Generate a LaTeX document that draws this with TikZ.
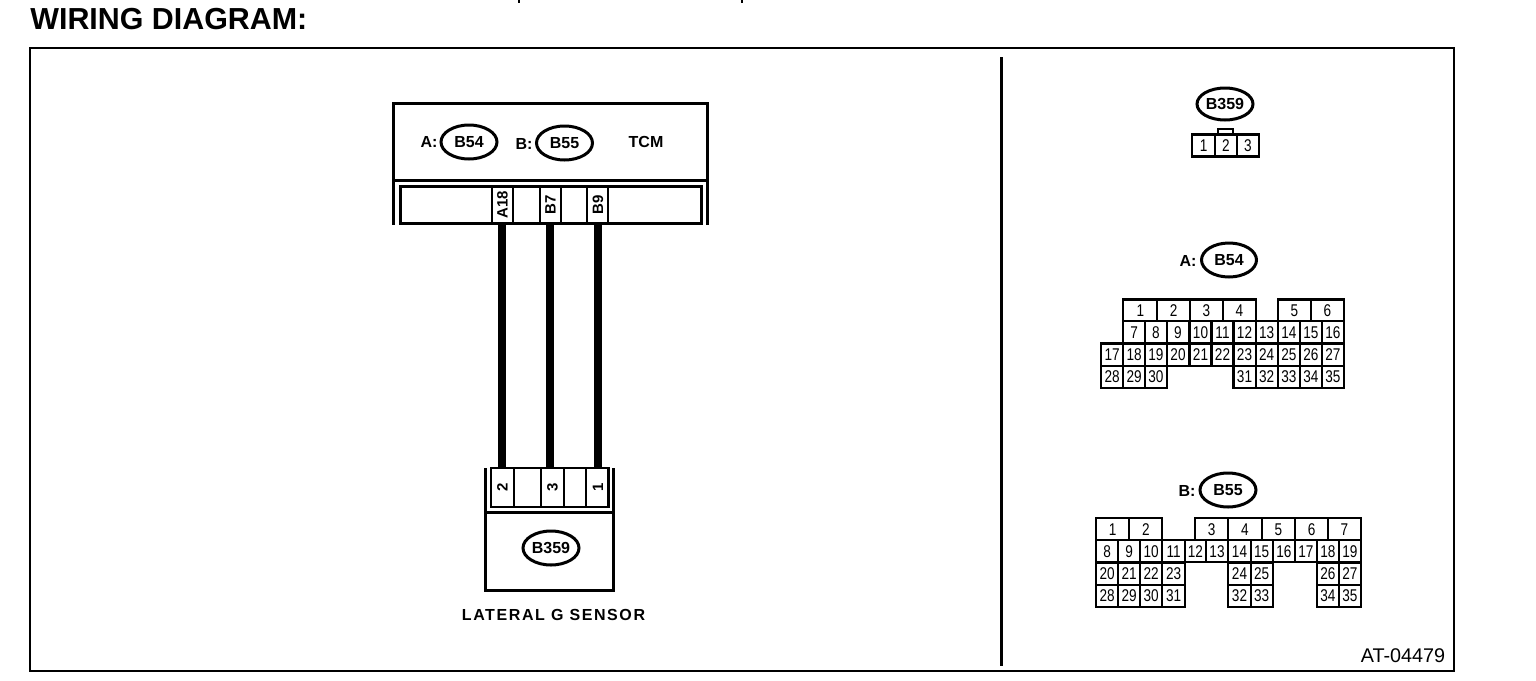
\documentclass[tikz,border=0pt]{standalone}
\usepackage{fontspec}
\setmainfont{Liberation Sans}
\newfontfamily\spaced[LetterSpace=10]{Liberation Sans}
\newfontfamily\narrow[FakeStretch=0.8]{Liberation Sans}
\tikzset{
  box/.style={draw,line width=1.5pt,inner sep=0pt,outer sep=0pt},
  badge/.style={draw,ellipse,line width=1.5pt,inner sep=0pt,font=\fontsize{8}{9}\selectfont\bfseries},
  lbl/.style={inner sep=0pt,font=\fontsize{8}{9}\selectfont\bfseries},
  pin/.style={draw,line width=1pt,inner sep=0pt,text height=5.5pt,text depth=0pt,font=\fontsize{7.5}{9}\selectfont\bfseries,rotate=90},
  cell/.style={draw,line width=1.1pt,inner sep=0pt,text height=6pt,text depth=0pt,font=\narrow\fontsize{8.5}{9}\selectfont},
  wire/.style={line width=4pt}
}
\usetikzlibrary{shapes.geometric}
\begin{document}
\begin{tikzpicture}[x=0.5pt,y=-0.5pt]
  \useasboundingbox (0,0) rectangle (1536,680);
  \node[inner sep=0pt,anchor=west,font=\fontsize{15.2}{17}\selectfont\bfseries] (title) at (30,19.5) {WIRING DIAGRAM:};
  \coordinate (tickA) at (519,0);
  \coordinate (tickB) at (742,0);
  \draw[line width=0.75pt] (tickA) -- ++(0,2.5) (tickB) -- ++(0,2.5);
  \node[draw,line width=1pt,inner sep=0pt,minimum width=712pt,minimum height=311.5pt] (frame) at (742,359.5) {};
  \coordinate (divtop) at (1001,57);
  \coordinate (divbot) at (1001,666);
  \draw[line width=1.5pt] (divtop) -- (divbot);
  \node[inner sep=0pt,font=\fontsize{9.9}{11}\selectfont] (code) at (1403,656) {AT-04479};

  % TCM
  \node[box,minimum width=157pt,minimum height=38.5pt] (tcm) at (550.5,141.5) {};
  \node[lbl] (tcmname) at (646,142) {TCM};
  \node[lbl] (tagA) at (429,142) {A:};
  \node[badge,minimum width=28pt,minimum height=17pt] (tcmB54) at (469,142) {B54};
  \node[lbl] (tagB) at (524,144) {B:};
  \node[badge,minimum width=28pt,minimum height=17pt] (tcmB55) at (564.5,143) {B55};
  \node[box,minimum width=150.5pt,minimum height=18.5pt] (tcmpins) at (550.7,204.5) {};
  \coordinate (tcmbot) at (550,225);
  \draw[line width=1.5pt] (tcm.south west) -- (tcm.south west |- tcmbot) (tcm.south east) -- (tcm.south east |- tcmbot);
  \node[pin,minimum width=18.5pt,minimum height=10.5pt] (pA18) at (502,204.5) {A18};
  \node[pin,minimum width=18.5pt,minimum height=10.5pt] (pB7) at (550,204.5) {B7};
  \node[pin,minimum width=18.5pt,minimum height=10.5pt] (pB9) at (597.5,204.5) {B9};

  % sensor
  \node[box,minimum width=64pt,minimum height=39pt] (sensor) at (549.3,551) {};
  \node[badge,minimum width=28pt,minimum height=17pt] (senB359) at (551,548) {B359};
  \node[inner sep=0pt,font=\spaced\fontsize{8}{9}\selectfont\bfseries] (senname) at (553.5,615) {LATERAL G SENSOR};
  \node[box,line width=1pt,minimum width=58.5pt,minimum height=19.5pt] (senpins) at (549.5,487.5) {};
  \coordinate (sentop) at (550,468);
  \draw[line width=1.5pt] (sensor.north west) -- (sensor.north west |- sentop) (sensor.north east) -- (sensor.north east |- sentop);
  \node[pin,minimum width=19.5pt,minimum height=11.5pt] (p2) at (502,487.5) {2};
  \node[pin,minimum width=19.5pt,minimum height=11.5pt] (p3) at (552,487.5) {3};
  \node[pin,minimum width=19.5pt,minimum height=11.5pt] (p1) at (597.5,487.5) {1};

  \draw[wire] (pA18.west) -- (pA18.west |- p2.east);
  \draw[wire] (pB7.west) -- (pB7.west |- p3.east);
  \draw[wire] (pB9.west) -- (pB9.west |- p1.east);

  % B359 connector
  \node[badge,minimum width=28pt,minimum height=16pt] (B359) at (1225,104) {B359};
  \node[draw,line width=1pt,inner sep=0pt,minimum width=7.5pt,minimum height=2.5pt] (B359tab) at (1225.5,131.5) {};
  \foreach \n/\x/\w in {1/1203.6/22.7,2/1225.8/21.7,3/1248/22.6}
    \node[cell,minimum width=\w*0.5pt,minimum height=11pt] (s\n) at (\x,145.5) {\n};

  % B54 connector
  \node[lbl] (labA) at (1188,261) {A:};
  \node[badge,minimum width=27.5pt,minimum height=17pt] (B54) at (1229,260) {B54};
  \foreach \n/\x/\w in {1/1140.3/34,2/1173.6/32.7,3/1206.3/32.7,4/1239.3/33.3,5/1294.3/33.3,6/1327.5/33}
    \node[cell,minimum width=\w*0.5pt,minimum height=10.75pt] (a\n) at (\x,310.2) {\n};
  \foreach \n/\x/\y in {7/1134.2/332,8/1155.9/332,9/1178/332,10/1200.5/332,11/1222.5/332,12/1244.5/332,13/1266.7/332,14/1288.9/332,15/1310.9/332,16/1332.9/332,
      17/1112.2/354.5,18/1134.2/354.5,19/1155.9/354.5,20/1178/354.5,21/1200.5/354.5,22/1222.5/354.5,23/1244.5/354.5,24/1266.7/354.5,25/1288.9/354.5,26/1310.9/354.5,27/1332.9/354.5,
      28/1112.2/376.8,29/1134.2/376.8,30/1155.9/376.8,31/1244.5/376.8,32/1266.7/376.8,33/1288.9/376.8,34/1310.9/376.8,35/1332.9/376.8}
    \node[cell,minimum width=11.1pt,minimum height=11.1pt] (a\n) at (\x,\y) {\n};

  % B55 connector
  \node[lbl] (labB) at (1187,491) {B:};
  \node[badge,minimum width=28pt,minimum height=17pt] (B55) at (1228,490) {B55};
  \foreach \n/\x/\w in {1/1112.7/33.3,2/1145.8/33,3/1211.7/33.3,4/1245/33.3,5/1278.3/33.3,6/1311.7/33.3,7/1344.5/32.4}
    \node[cell,minimum width=\w*0.5pt,minimum height=10.85pt] (b\n) at (\x,529.2) {\n};
  \foreach \n/\x/\y/\w in {8/1107.2/551.2/22.3,9/1129.2/551.2/21.7,10/1151.2/551.2/22.3,11/1173.6/551.2/22.7,12/1195.3/551.2/20.7,13/1217/551.2/22.6,14/1239.5/551.2/22.4,15/1261.7/551.2/22,16/1283.9/551.2/22.3,17/1305.9/551.2/21.7,18/1327.9/551.2/22.3,19/1349.9/551.2/21.7,
      20/1107.2/573.7/22.3,21/1129.2/573.7/21.7,22/1151.2/573.7/22.3,23/1173.6/573.7/22.7,24/1239.5/573.7/22.4,25/1261.7/573.7/22,26/1327.9/573.7/22.3,27/1349.9/573.7/21.7,
      28/1107.2/595.8/22.3,29/1129.2/595.8/21.7,30/1151.2/595.8/22.3,31/1173.6/595.8/22.7,32/1239.5/595.8/22.4,33/1261.7/595.8/22,34/1327.9/595.8/22.3,35/1349.9/595.8/21.7}
    \node[cell,minimum width=\w*0.5pt,minimum height=11.1pt] (b\n) at (\x,\y) {\n};
\end{tikzpicture}
\end{document}
